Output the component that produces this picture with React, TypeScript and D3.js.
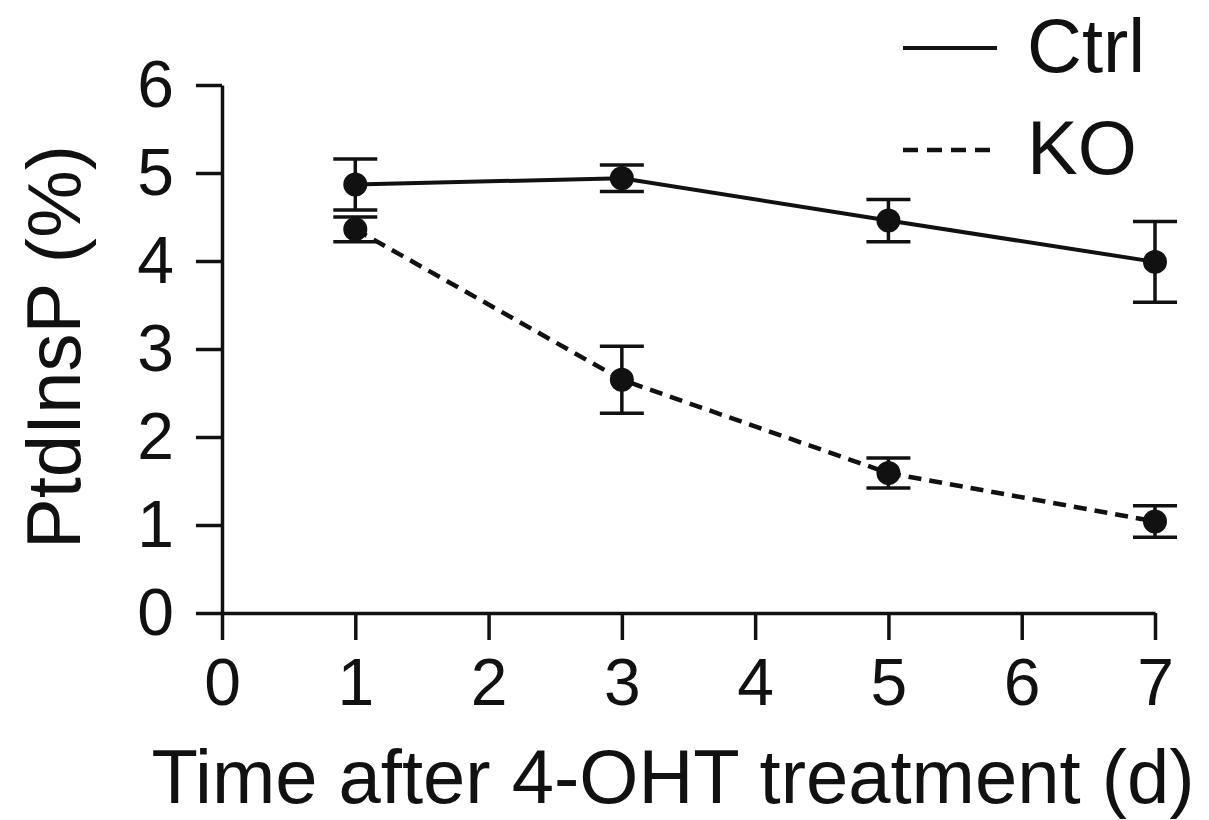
import React, { useEffect, useRef } from 'react';
import * as d3 from 'd3';

// days after 4-OHT treatment
const days = [1, 3, 5, 7];
// PtdInsP (%) mean and error
const ctrlMean = [4.87, 4.94, 4.46, 3.99];
const ctrlErr = [0.29, 0.15, 0.24, 0.46];
const koMean = [4.36, 2.65, 1.59, 1.04];
const koErr = [0.14, 0.38, 0.17, 0.18];

const xTicks = [0, 1, 2, 3, 4, 5, 6, 7];
const yTicks = [0, 1, 2, 3, 4, 5, 6];
const seriesNames = ['Ctrl', 'KO'];

const FONT = '"Liberation Sans", Arial, Helvetica, sans-serif';

function App() {
  const chartRef = useRef<SVGSVGElement>(null);

  useEffect(() => {
    document.body.style.margin = '0';
    document.body.style.overflow = 'hidden';

    const svg = d3.select(chartRef.current);
    svg.selectAll('*').remove();

    const x = d3.scaleLinear().domain([0, 7]).range([222, 1155]);
    const y = d3.scaleLinear().domain([0, 6]).range([613, 85]);

    // axes
    const yAxis = svg.append('g')
      .attr('transform', `translate(${x(0)},0)`)
      .call(d3.axisLeft(y).tickValues(yTicks).tickFormat(d3.format('d'))
        .tickSize(26).tickSizeOuter(0).tickPadding(22));
    const xAxis = svg.append('g')
      .attr('transform', `translate(0,${y(0)})`)
      .call(d3.axisBottom(x).tickValues(xTicks).tickFormat(d3.format('d'))
        .tickSize(27).tickSizeOuter(0).tickPadding(18));

    [yAxis, xAxis].forEach(g => {
      g.selectAll('path, line').attr('stroke', '#111').attr('stroke-width', 3.5);
      g.selectAll('text')
        .attr('fill', '#111')
        .attr('font-family', FONT)
        .attr('font-size', 66);
    });

    const series = [
      { name: seriesNames[0], mean: ctrlMean, err: ctrlErr, dash: null },
      { name: seriesNames[1], mean: koMean, err: koErr, dash: '13,8' },
    ];

    const line = d3.line<number>()
      .x((_, i) => x(days[i]))
      .y(d => y(d));

    series.forEach(s => {
      svg.append('path')
        .datum(s.mean)
        .attr('fill', 'none')
        .attr('stroke', '#111')
        .attr('stroke-width', s.dash ? 4.5 : 4)
        .attr('stroke-dasharray', s.dash)
        .attr('d', line);

      const g = svg.append('g');
      days.forEach((d, i) => {
        const cx = x(d);
        const top = y(s.mean[i] + s.err[i]);
        const bot = y(s.mean[i] - s.err[i]);
        g.append('line').attr('x1', cx).attr('x2', cx).attr('y1', top).attr('y2', bot)
          .attr('stroke', '#111').attr('stroke-width', 3.5);
        [top, bot].forEach(v => {
          g.append('line').attr('x1', cx - 22).attr('x2', cx + 22).attr('y1', v).attr('y2', v)
            .attr('stroke', '#111').attr('stroke-width', 3.5);
        });
        g.append('circle').attr('cx', cx).attr('cy', y(s.mean[i])).attr('r', 12).attr('fill', '#111');
      });
    });

    // axis titles
    svg.append('text')
      .attr('x', 673)
      .attr('y', 803)
      .attr('text-anchor', 'middle')
      .attr('font-family', FONT)
      .attr('font-size', 76)
      .attr('fill', '#111')
      .text('Time after 4-OHT treatment (d)');

    svg.append('text')
      .attr('transform', 'translate(80,347) rotate(-90)')
      .attr('text-anchor', 'middle')
      .attr('font-family', FONT)
      .attr('font-size', 76)
      .attr('fill', '#111')
      .text('PtdInsP (%)');

    // legend
    const legend = svg.append('g');
    series.forEach((s, i) => {
      const ly = 48 + i * 102;
      legend.append('line')
        .attr('x1', 903).attr('x2', s.dash ? 992 : 997)
        .attr('y1', ly).attr('y2', ly)
        .attr('stroke', '#111')
        .attr('stroke-width', s.dash ? 4.5 : 4)
        .attr('stroke-dasharray', s.dash ? '15,9' : null);
      legend.append('text')
        .attr('x', 1027)
        .attr('y', ly + 24)
        .attr('font-family', FONT)
        .attr('font-size', 76)
        .attr('fill', '#111')
        .text(s.name);
    });
  }, []);

  return <svg ref={chartRef} width="1209" height="820" style={{ display: 'block', background: '#fff' }}></svg>;
}

export default App;
